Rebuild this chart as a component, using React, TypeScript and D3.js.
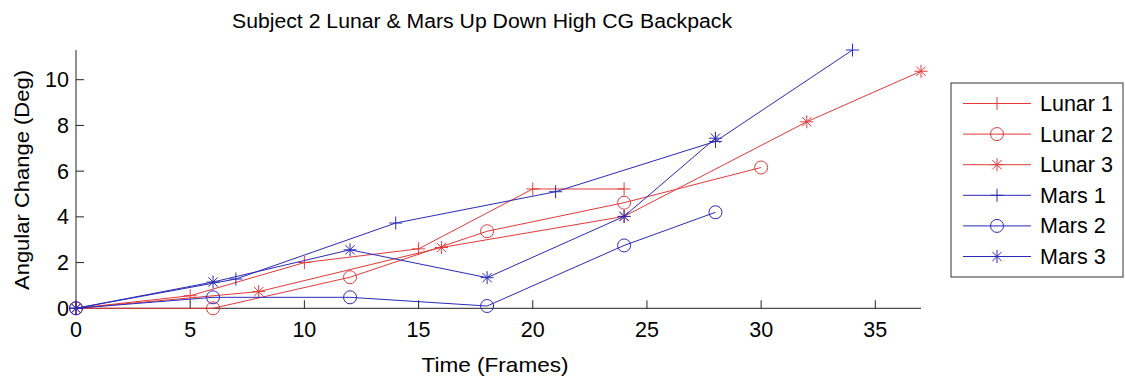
import React from "react";
import * as d3 from "d3";

const seriesNames = ["Lunar 1", "Lunar 2", "Lunar 3", "Mars 1", "Mars 2", "Mars 3"];
const seriesColors = ["#e03a3a", "#e03a3a", "#e03a3a", "#2a2ab8", "#2a2ab8", "#2a2ab8"];
const seriesMarkers = ["plus", "circle", "star", "plus", "circle", "star"];

const lunar1X = [0, 5, 10, 15, 20, 24];
const lunar1Y = [0, 0.55, 2.0, 2.6, 5.22, 5.22];
const lunar2X = [0, 6, 12, 18, 24, 30];
const lunar2Y = [0, 0, 1.36, 3.37, 4.62, 6.16];
const lunar3X = [0, 8, 16, 24, 32, 37];
const lunar3Y = [0, 0.73, 2.66, 4.02, 8.16, 10.37];
const mars1X = [0, 7, 14, 21, 28, 34];
const mars1Y = [0, 1.28, 3.73, 5.1, 7.3, 11.3];
const mars2X = [0, 6, 12, 18, 24, 28];
const mars2Y = [0, 0.48, 0.48, 0.1, 2.75, 4.2];
const mars3X = [0, 6, 12, 18, 24, 28];
const mars3Y = [0, 1.15, 2.56, 1.34, 4.02, 7.44];

const xTicks = [0, 5, 10, 15, 20, 25, 30, 35];
const yTicks = [0, 2, 4, 6, 8, 10];

const allX = [lunar1X, lunar2X, lunar3X, mars1X, mars2X, mars3X];
const allY = [lunar1Y, lunar2Y, lunar3Y, mars1Y, mars2Y, mars3Y];

const FONT = "'Liberation Sans', Arial, Helvetica, sans-serif";

function Marker({ type, x, y, color }: { type: string; x: number; y: number; color: string }) {
  const s = 6.5;
  if (type === "circle") {
    return <circle cx={x} cy={y} r={s} fill="none" stroke={color} strokeWidth={1} />;
  }
  if (type === "plus") {
    return (
      <path d={`M${x - s},${y}H${x + s}M${x},${y - s}V${y + s}`} stroke={color} strokeWidth={1} fill="none" />
    );
  }
  const d = s * 0.72;
  return (
    <path
      d={`M${x - s},${y}H${x + s}M${x},${y - s}V${y + s}M${x - d},${y - d}L${x + d},${y + d}M${x - d},${y + d}L${x + d},${y - d}`}
      stroke={color}
      strokeWidth={1}
      fill="none"
    />
  );
}

export default function App() {
  const width = 1125;
  const height = 377;
  const left = 76;
  const right = 921;
  const top = 50;
  const bottom = 308.3;

  const x = d3.scaleLinear().domain([0, 37]).range([left, right]);
  const y = d3.scaleLinear().domain([0, 11.3]).range([bottom, top]);

  const line = d3
    .line<[number, number]>()
    .x((d) => x(d[0]))
    .y((d) => y(d[1]));

  const legendX = 951;
  const legendY = 83;
  const legendW = 172;
  const legendH = 194;
  const rowY0 = 103.5;
  const rowStep = 30.6;

  return (
    <svg
      width={width}
      height={height}
      style={{ position: "absolute", left: 0, top: 0, background: "#fff" }}
      fontFamily={FONT}
    >
      <rect x={0} y={0} width={width} height={height} fill="#fff" />
      <text x={482} y={28} textAnchor="middle" fontSize={20} fill="#000" textLength={500} lengthAdjust="spacingAndGlyphs">
        Subject 2 Lunar &amp; Mars Up Down High CG Backpack
      </text>

      {/* axes */}
      <line x1={left} x2={left} y1={top} y2={bottom} stroke="#222" strokeWidth={1} />
      <line x1={left} x2={right} y1={bottom} y2={bottom} stroke="#222" strokeWidth={1} />
      {xTicks.map((t) => (
        <g key={"xt" + t}>
          <line x1={x(t)} x2={x(t)} y1={bottom} y2={bottom - 8} stroke="#222" strokeWidth={1} />
          <text x={x(t)} y={337} textAnchor="middle" fontSize={21.5} fill="#000">
            {t}
          </text>
        </g>
      ))}
      {yTicks.map((t) => (
        <g key={"yt" + t}>
          <line x1={left} x2={left + 8} y1={y(t)} y2={y(t)} stroke="#222" strokeWidth={1} />
          <text x={69} y={y(t) + 7.5} textAnchor="end" fontSize={21.5} fill="#000">
            {t}
          </text>
        </g>
      ))}
      <text x={495} y={372} textAnchor="middle" fontSize={21} fill="#000" textLength={147} lengthAdjust="spacingAndGlyphs">
        Time (Frames)
      </text>
      <text
        transform={`translate(29,180) rotate(-90)`}
        textAnchor="middle"
        fontSize={21}
        fill="#000"
        textLength={220}
        lengthAdjust="spacingAndGlyphs"
      >
        Angular Change (Deg)
      </text>

      {/* series */}
      {seriesNames.map((name, i) => {
        const pts: [number, number][] = allX[i].map((v, j) => [v, allY[i][j]]);
        return (
          <g key={name}>
            <path d={line(pts) || ""} fill="none" stroke={seriesColors[i]} strokeWidth={1} />
            {pts.map((p, j) => (
              <Marker key={j} type={seriesMarkers[i]} x={x(p[0])} y={y(p[1])} color={seriesColors[i]} />
            ))}
          </g>
        );
      })}

      {/* legend */}
      <rect x={legendX} y={legendY} width={legendW} height={legendH} fill="#fff" stroke="#333" strokeWidth={1} />
      {seriesNames.map((name, i) => {
        const ry = rowY0 + i * rowStep;
        return (
          <g key={"lg" + name}>
            <line x1={963} x2={1031} y1={ry} y2={ry} stroke={seriesColors[i]} strokeWidth={1} />
            <Marker type={seriesMarkers[i]} x={997} y={ry} color={seriesColors[i]} />
            <text x={1040} y={ry + 7.5} fontSize={21.5} fill="#000">
              {name}
            </text>
          </g>
        );
      })}
    </svg>
  );
}
